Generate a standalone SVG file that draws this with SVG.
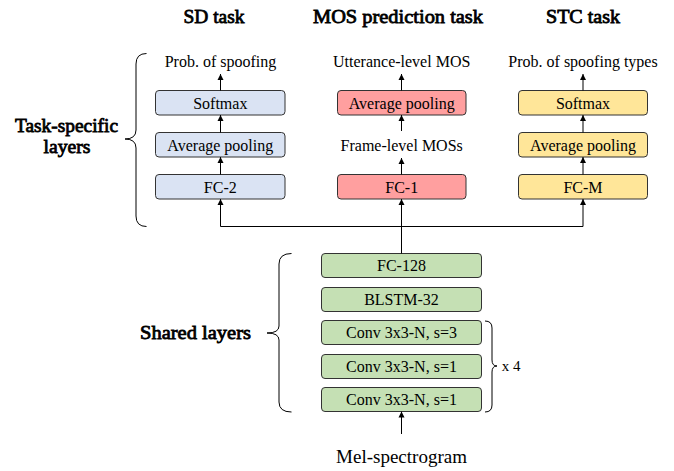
<svg xmlns="http://www.w3.org/2000/svg" width="674" height="471" viewBox="0 0 674 471">
<defs>
<marker id="ah" viewBox="0 0 6 8" refX="6" refY="4" markerWidth="6" markerHeight="8" markerUnits="userSpaceOnUse" orient="auto">
<path d="M0,1 L6,4 L0,7 Z" fill="#000"/>
</marker>
<style>
.box{stroke:#333;stroke-width:1;}
.sd{fill:#dae3f3}
.mos{fill:#ff9f9f}
.stc{fill:#ffe699}
.sh{fill:#c5e0b4}
.t{font-family:"Liberation Serif","Times New Roman",serif;font-size:16px;text-anchor:middle;fill:#000}
.lbl{font-family:"Liberation Serif","Times New Roman",serif;font-size:16px;text-anchor:middle;fill:#000}
.b{font-family:"Liberation Serif","Times New Roman",serif;font-size:19.5px;text-anchor:middle;fill:#000;stroke:#000;stroke-width:0.8px}
.c{fill:none;stroke:#000;stroke-width:1}
.br{fill:none;stroke:#000;stroke-width:1}
</style>
</defs>
<rect width="674" height="471" fill="#fff"/>

<g id="titles">
<text class="b" x="214" y="23" textLength="61" lengthAdjust="spacingAndGlyphs">SD task</text>
<text class="b" x="398" y="23" textLength="170" lengthAdjust="spacingAndGlyphs">MOS prediction task</text>
<text class="b" x="583" y="23" textLength="74" lengthAdjust="spacingAndGlyphs">STC task</text>
</g>

<g id="task-specific-label">
<text class="b" x="66.5" y="132" textLength="103" lengthAdjust="spacingAndGlyphs">Task-specific</text>
<text class="b" x="67" y="153" textLength="47" lengthAdjust="spacingAndGlyphs">layers</text>
<path class="br" d="M146.5,53.5 Q136,53.5 136,64 L136,130 Q136,139 125,139 Q136,139 136,148 L136,216 Q136,226.5 146.5,226.5"/>
</g>

<g id="shared-label">
<text class="b" x="195.5" y="339" textLength="111" lengthAdjust="spacingAndGlyphs">Shared layers</text>
<path class="br" d="M291.5,253.5 Q279,253.5 279,264 L279,326 Q279,333 267,333 Q279,333 279,340 L279,402 Q279,412 291.5,412"/>
</g>

<g id="x4">
<path class="br" d="M485,321 Q492,321 492,328 L492,360 Q492,366 497,366 Q492,366 492,372 L492,405 Q492,412 485,412"/>
<text class="lbl" x="511" y="371" style="font-size:15px">x 4</text>
</g>

<g id="sd-out"><text class="lbl" x="220.5" y="67">Prob. of spoofing</text></g>
<g id="sd-softmax"><rect class="box sd" x="155.5" y="90.5" width="129.5" height="24.5" rx="3.5"/><text class="t" x="220.3" y="108.5">Softmax</text></g>
<g id="sd-avg"><rect class="box sd" x="155.5" y="132.5" width="129.5" height="24.5" rx="3.5"/><text class="t" x="220.3" y="150.5">Average pooling</text></g>
<g id="sd-fc2"><rect class="box sd" x="155.5" y="174.5" width="129.5" height="24.5" rx="3.5"/><text class="t" x="220.3" y="192.5">FC-2</text></g>

<g id="mos-out"><text class="lbl" x="401.7" y="67">Utterance-level MOS</text></g>
<g id="mos-avg"><rect class="box mos" x="337.5" y="90.5" width="128.5" height="24.5" rx="3.5"/><text class="t" x="401.7" y="108.5">Average pooling</text></g>
<g id="mos-frame"><text class="lbl" x="401.7" y="151">Frame-level MOSs</text></g>
<g id="mos-fc1"><rect class="box mos" x="337.5" y="174.5" width="128.5" height="24.5" rx="3.5"/><text class="t" x="401.7" y="192.5">FC-1</text></g>

<g id="stc-out"><text class="lbl" x="583" y="67">Prob. of spoofing types</text></g>
<g id="stc-softmax"><rect class="box stc" x="518.5" y="90.5" width="129" height="24.5" rx="3.5"/><text class="t" x="583" y="108.5">Softmax</text></g>
<g id="stc-avg"><rect class="box stc" x="518.5" y="132.5" width="129" height="24.5" rx="3.5"/><text class="t" x="583" y="150.5">Average pooling</text></g>
<g id="stc-fcm"><rect class="box stc" x="518.5" y="174.5" width="129" height="24.5" rx="3.5"/><text class="t" x="583" y="192.5">FC-M</text></g>

<g id="fc128"><rect class="box sh" x="321.5" y="253.5" width="160" height="24" rx="3.5"/><text class="t" x="401.5" y="271">FC-128</text></g>
<g id="blstm"><rect class="box sh" x="321.5" y="287.5" width="160" height="24" rx="3.5"/><text class="t" x="401.5" y="305">BLSTM-32</text></g>
<g id="conv3"><rect class="box sh" x="321.5" y="320.5" width="160" height="24" rx="3.5"/><text class="t" x="401.5" y="338">Conv 3x3-N, s=3</text></g>
<g id="conv1a"><rect class="box sh" x="321.5" y="354.5" width="160" height="24" rx="3.5"/><text class="t" x="401.5" y="372">Conv 3x3-N, s=1</text></g>
<g id="conv1b"><rect class="box sh" x="321.5" y="387.5" width="160" height="24" rx="3.5"/><text class="t" x="401.5" y="405">Conv 3x3-N, s=1</text></g>

<g id="mel"><text class="lbl" x="401.5" y="463" style="font-size:19px">Mel-spectrogram</text></g>

<g id="connectors">
<line class="c" x1="220.5" y1="90.5" x2="220.5" y2="74" marker-end="url(#ah)"/>
<line class="c" x1="220.5" y1="132.5" x2="220.5" y2="115" marker-end="url(#ah)"/>
<line class="c" x1="220.5" y1="174.5" x2="220.5" y2="157" marker-end="url(#ah)"/>
<line class="c" x1="401.5" y1="90.5" x2="401.5" y2="74" marker-end="url(#ah)"/>
<line class="c" x1="401.5" y1="131" x2="401.5" y2="115" marker-end="url(#ah)"/>
<line class="c" x1="401.5" y1="174.5" x2="401.5" y2="158" marker-end="url(#ah)"/>
<line class="c" x1="583" y1="90.5" x2="583" y2="74" marker-end="url(#ah)"/>
<line class="c" x1="583" y1="132.5" x2="583" y2="115" marker-end="url(#ah)"/>
<line class="c" x1="583" y1="174.5" x2="583" y2="157" marker-end="url(#ah)"/>
<line class="c" x1="401.5" y1="253.5" x2="401.5" y2="199" marker-end="url(#ah)"/>
<polyline class="c" points="220.5,226.5 583,226.5"/>
<line class="c" x1="220.5" y1="226.5" x2="220.5" y2="199" marker-end="url(#ah)"/>
<line class="c" x1="583" y1="226.5" x2="583" y2="199" marker-end="url(#ah)"/>
<line class="c" x1="401.5" y1="434" x2="401.5" y2="411.5" marker-end="url(#ah)"/>
</g>
</svg>
